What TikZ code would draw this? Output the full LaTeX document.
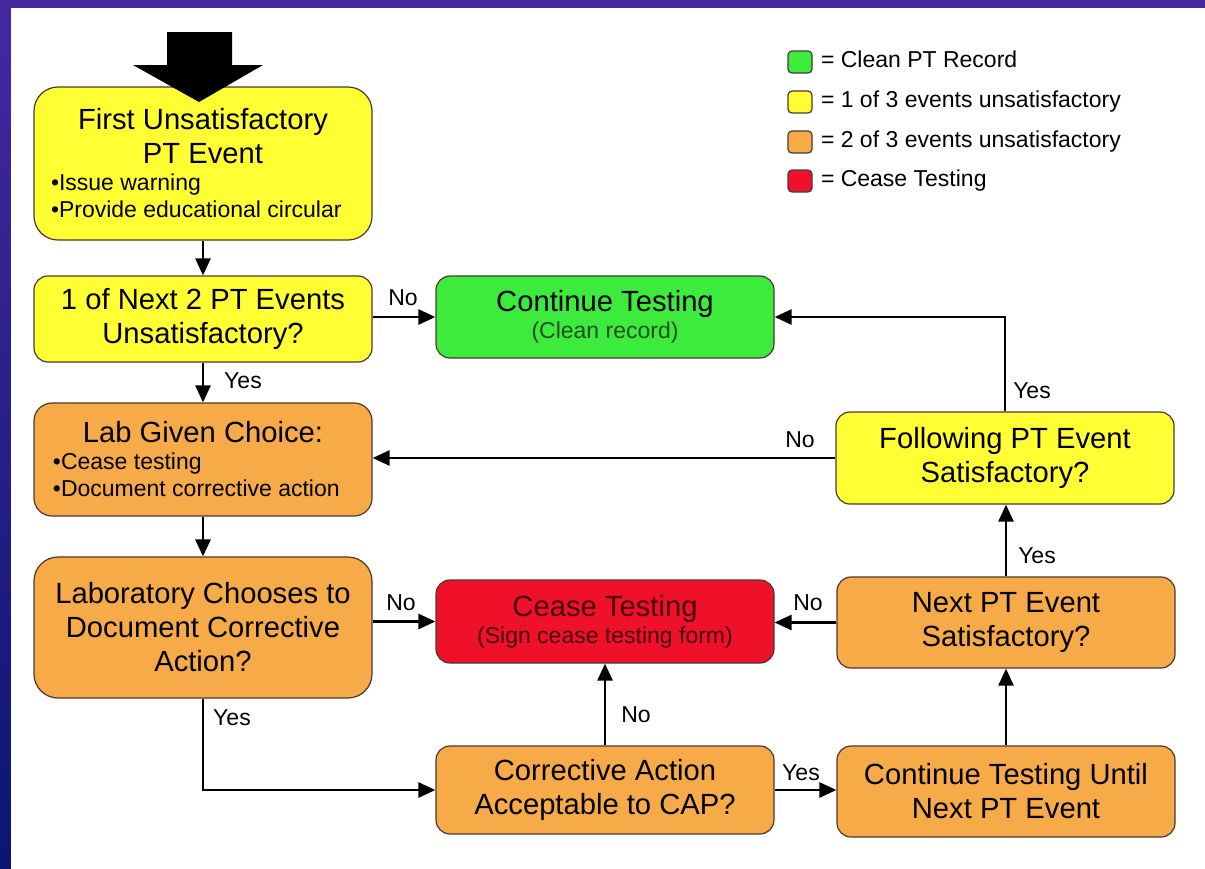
\documentclass[tikz,border=0pt]{standalone}
\usepackage{fontspec}
\setmainfont{Liberation Sans}
\usetikzlibrary{arrows.meta,positioning}
\setlength{\parindent}{0pt}
\definecolor{ptyellow}{HTML}{FFFF33}
\definecolor{ptgreen}{HTML}{3DEB3D}
\definecolor{ptorange}{HTML}{F7AA48}
\definecolor{ptred}{HTML}{EE1129}
\definecolor{ptedge}{HTML}{4A3A30}
\definecolor{ptgreentxt}{HTML}{1F4F1F}
\definecolor{ptredtxt}{HTML}{45000A}
\definecolor{frametop}{HTML}{4528A0}
\definecolor{framebot}{HTML}{0B1574}
\newcommand{\bigtxt}{\fontsize{14.6}{17}\selectfont}
\newcommand{\smalltxt}{\fontsize{11.5}{13.5}\selectfont}
\tikzset{>={Triangle[length=8.5pt,width=7.5pt]}}
\tikzset{stepbox/.style = {shape=rectangle,rounded corners=7pt,draw=ptedge,line width=0.6pt,minimum width=169pt,align=center,font=\bigtxt,inner sep=2pt}}
\tikzset{flow/.style = {->,line width=1.35pt}}
\tikzset{lbl/.style = {font=\smalltxt,inner sep=0pt}}
\tikzset{key/.style = {shape=rectangle,rounded corners=2pt,draw=ptedge,line width=0.6pt,minimum width=12pt,minimum height=11pt,inner sep=0pt}}

\begin{document}
\begin{tikzpicture}[x=0.5pt,y=-0.5pt]
  \useasboundingbox (0,0) rectangle (1205,868);
  % frame
  \shade[top color=frametop,bottom color=framebot] (0,0) rectangle (1205,868);
  \fill[white] (11,8) rectangle (1215,878);

  % left column
  \node[stepbox,fill=ptyellow,minimum height=76.5pt,rounded corners=12pt,text width=152pt,align=none] (first) at (203,163.5)
    {{\centering First Unsatisfactory\\PT Event\par}\smalltxt\raggedright\textbullet Issue warning\\\textbullet Provide educational circular\par};
  \node[stepbox,fill=ptyellow,minimum height=43pt] (next2) at (203,319) {1 of Next 2 PT Events\\Unsatisfactory?};
  \node[stepbox,fill=ptorange,minimum height=56.5pt,rounded corners=9pt,text width=150pt,align=none] (lab) at (203,459.5)
    {{\centering Lab Given Choice:\par}\smalltxt\raggedright\textbullet Cease testing\\\textbullet Document corrective action\par};
  \node[stepbox,fill=ptorange,minimum height=70.5pt,rounded corners=12pt] (chooses) at (203,627.5) {Laboratory Chooses to\\Document Corrective\\Action?};

  % middle column
  \node[stepbox,fill=ptgreen,minimum height=41pt] (clean) at (605,317) {Continue Testing\\[-3.5pt]{\smalltxt\color{ptgreentxt}(Clean record)}};
  \node[stepbox,fill=ptred,text=ptredtxt,minimum height=41.5pt] (cease) at (605,621.5) {Cease Testing\\[-3.5pt]{\smalltxt (Sign cease testing form)}};
  \node[stepbox,fill=ptorange,minimum height=44pt] (corrective) at (605,790) {Corrective Action\\Acceptable to CAP?};

  % right column
  \node[stepbox,fill=ptyellow,minimum height=46pt] (follow) at (1005,458) {Following PT Event\\Satisfactory?};
  \node[stepbox,fill=ptorange,minimum height=45.5pt] (next) at (1006,622.5) {Next PT Event\\Satisfactory?};
  \node[stepbox,fill=ptorange,minimum height=45.5pt] (until) at (1006,791.5) {Continue Testing Until\\Next PT Event};

  % entry arrow
  \fill (167,32) -- (232,32) -- (232,65) -- (263,65) -- (199,102) -- (133,65) -- (167,65) -- cycle;

  % connectors
  \draw[flow] (first) -- (next2);
  \draw[flow] (next2.east |- clean.west) -- (clean.west);
  \draw[flow] (next2) -- (lab);
  \draw[flow] (follow.north) |- (clean.east);
  \draw[flow] (follow.west) -- (follow.west -| lab.east);
  \draw[flow] (lab) -- (chooses);
  \draw[flow] (chooses.east |- cease.west) -- (cease.west);
  \draw[flow] (chooses.south) |- (corrective.west);
  \draw[flow] (corrective) -- (cease);
  \draw[flow] (corrective.east) -- (corrective.east -| until.west);
  \draw[flow] (until) -- (next);
  \draw[flow] (next.west) -- (next.west -| cease.east);
  \draw[flow] (next.north) -- (next.north |- follow.south);

  % labels
  \node[lbl] (lno1) at (403,298) {No};
  \node[lbl] (lyes1) at (243,381) {Yes};
  \node[lbl] (lyes2) at (1032,391) {Yes};
  \node[lbl] (lno2) at (800,440) {No};
  \node[lbl] (lno3) at (401,603) {No};
  \node[lbl] (lno4) at (808,603) {No};
  \node[lbl] (lyes3) at (232,718) {Yes};
  \node[lbl] (lno5) at (636,715) {No};
  \node[lbl] (lyes4) at (801,773) {Yes};
  \node[lbl] (lyes5) at (1037,556) {Yes};

  % legend
  \foreach \c/\t/\y [count=\i] in {ptgreen/Clean PT Record/62,ptyellow/1 of 3 events unsatisfactory/102,ptorange/2 of 3 events unsatisfactory/142,ptred/Cease Testing/181} {
    \node[key,fill=\c] (key\i) at (800,\y) {};
    \node[lbl,right=4pt of key\i,text height=8.3pt,text depth=2.4pt] (keytext\i) {= \t};
  }
\end{tikzpicture}
\end{document}
